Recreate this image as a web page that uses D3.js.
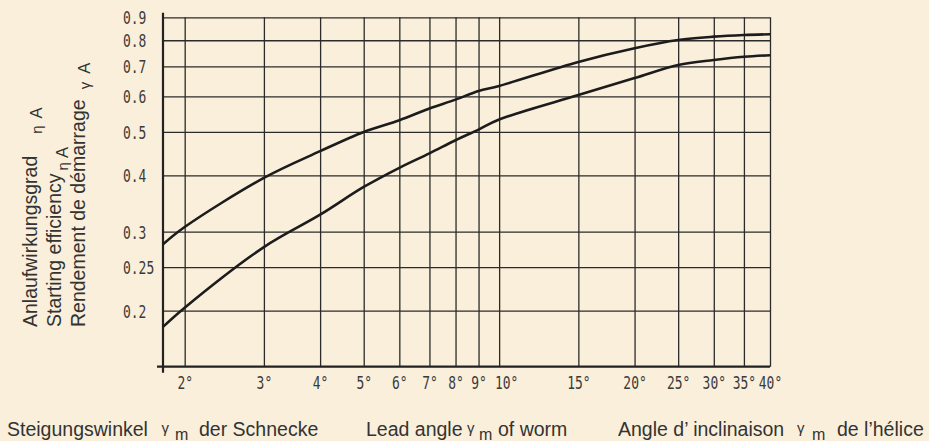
<!DOCTYPE html>
<html>
<head>
<meta charset="utf-8">
<script src="https://cdn.jsdelivr.net/npm/d3@7.9.0/dist/d3.min.js"></script>
<style>
  html, body { margin: 0; padding: 0; background: #FAEFDA; }
  svg { display: block; }
</style>
</head>
<body>
<svg id="chart" width="929" height="441"></svg>
<script>
// lead angle (degrees) and starting efficiency
const angles = [1.79, 2, 3, 4, 5, 6, 7, 8, 9, 10, 15, 20, 25, 30, 35, 40];
const upperEff = [0.281, 0.307, 0.395, 0.453, 0.50, 0.531, 0.564, 0.59, 0.617, 0.633, 0.716, 0.768, 0.801, 0.815, 0.822, 0.825];
const lowerEff = [0.184, 0.203, 0.277, 0.327, 0.377, 0.416, 0.448, 0.479, 0.506, 0.533, 0.604, 0.659, 0.705, 0.723, 0.735, 0.741];

const xTicks = [2, 3, 4, 5, 6, 7, 8, 9, 10, 15, 20, 25, 30, 35, 40];
const yTicks = [0.2, 0.25, 0.3, 0.4, 0.5, 0.6, 0.7, 0.8, 0.9];
const yTickLabels = ['0.2', '0.25', '0.3', '0.4', '0.5', '0.6', '0.7', '0.8', '0.9'];

const svg = d3.select('#chart');
const plotL = 163, plotR = 770, plotT = 17.3, plotB = 366.7;

const x = d3.scaleLog().domain([1.79, 40]).range([plotL, plotR]);
const y = d3.scaleLog().domain([0.15, 0.9]).range([plotB, plotT]);

const tickFont = "'DejaVu Sans Mono', monospace";
const textFont = "'Liberation Sans', Arial, sans-serif";
const sx = 0.72; // narrow technical lettering
const tickSize = 18;

// vertical grid + x labels
const gx = svg.append('g')
  .attr('transform', `translate(0,${plotB})`)
  .call(d3.axisBottom(x).tickValues(xTicks).tickSize(-(plotB - plotT)).tickFormat(d => d + '°'));
gx.select('.domain').remove();
gx.selectAll('.tick line').attr('stroke', '#2b2b2b').attr('stroke-width', 1.3);
gx.selectAll('.tick text')
  .attr('font-family', tickFont)
  .attr('font-size', tickSize)
  .attr('fill', '#3a3a3a')
  .attr('text-anchor', 'middle')
  .attr('dy', 0)
  .attr('y', 22)
  .attr('x', d => (d === 10 ? 7 : 0) / sx)
  .attr('transform', `scale(${sx},1)`);

// horizontal grid + y labels
const gy = svg.append('g')
  .attr('transform', `translate(${plotL},0)`)
  .call(d3.axisLeft(y).tickValues(yTicks).tickSize(-(plotR - plotL)).tickFormat((d, i) => yTickLabels[i]));
gy.select('.domain').remove();
gy.selectAll('.tick line').attr('stroke', '#2b2b2b').attr('stroke-width', 1.3);
gy.selectAll('.tick text')
  .attr('font-family', tickFont)
  .attr('font-size', tickSize)
  .attr('fill', '#3a3a3a')
  .attr('text-anchor', 'start')
  .attr('dy', '0.36em')
  .attr('x', -40 / sx)
  .attr('transform', `scale(${sx},1)`);

// main axis lines, slightly overshooting like the drawing
svg.append('line')
  .attr('x1', plotL).attr('x2', plotL).attr('y1', plotT - 4.5).attr('y2', plotB + 6)
  .attr('stroke', '#222').attr('stroke-width', 2.2);
svg.append('line')
  .attr('x1', plotL - 6).attr('x2', plotR).attr('y1', plotB).attr('y2', plotB)
  .attr('stroke', '#222').attr('stroke-width', 2.2);

// curves
const line = d3.line()
  .x(d => x(d[0]))
  .y(d => y(d[1]))
  .curve(d3.curveCatmullRom.alpha(0.5));

[upperEff, lowerEff].forEach(vals => {
  svg.append('path')
    .datum(angles.map((a, i) => [a, vals[i]]))
    .attr('d', line)
    .attr('fill', 'none')
    .attr('stroke', '#1c1c1c')
    .attr('stroke-width', 2.6);
});

// rotated y title
const yTitles = [
  { base: 37, txt: 'Anlaufwirkungsgrad', gap: 22, sym: 'η', shift: 5, gapA: 7 },
  { base: 61, txt: 'Starting efficiency', gap: 3, sym: 'η', shift: 7, gapA: 4 },
  { base: 84.5, txt: 'Rendement de démarrage', gap: 10, sym: 'γ', shift: 5, gapA: 8 }
];
yTitles.forEach(t => {
  const tx = svg.append('text')
    .attr('transform', `translate(${t.base},327) rotate(-90)`)
    .attr('font-family', textFont)
    .attr('font-size', 19.5)
    .attr('fill', '#333');
  tx.append('tspan').text(t.txt);
  tx.append('tspan').attr('dx', t.gap).attr('dy', t.shift).attr('font-size', 15).text(t.sym);
  tx.append('tspan').attr('dx', t.gapA).attr('font-size', 16.5).text('A');
});

// x titles (German, English, French)
const xTitles = [
  { x: 7, a: 'Steigungswinkel', g: 161.5, m: 175, b: 'der Schnecke', bx: 199 },
  { x: 366, a: 'Lead angle', g: 467, m: 479, b: 'of worm', bx: 498 },
  { x: 618, a: 'Angle d\u2019 inclinaison', g: 797, m: 812, b: 'de l\u2019hélice', bx: 837 }
];
xTitles.forEach(t => {
  const tx = svg.append('text')
    .attr('font-family', textFont)
    .attr('font-size', 19.5)
    .attr('fill', '#333');
  tx.append('tspan').attr('x', t.x).attr('y', 436).text(t.a);
  tx.append('tspan').attr('x', t.g).attr('y', 433).attr('font-size', 15).text('γ');
  tx.append('tspan').attr('x', t.m).attr('y', 439.5).attr('font-size', 16).text('m');
  tx.append('tspan').attr('x', t.bx).attr('y', 436).text(t.b);
});
</script>
</body>
</html>
